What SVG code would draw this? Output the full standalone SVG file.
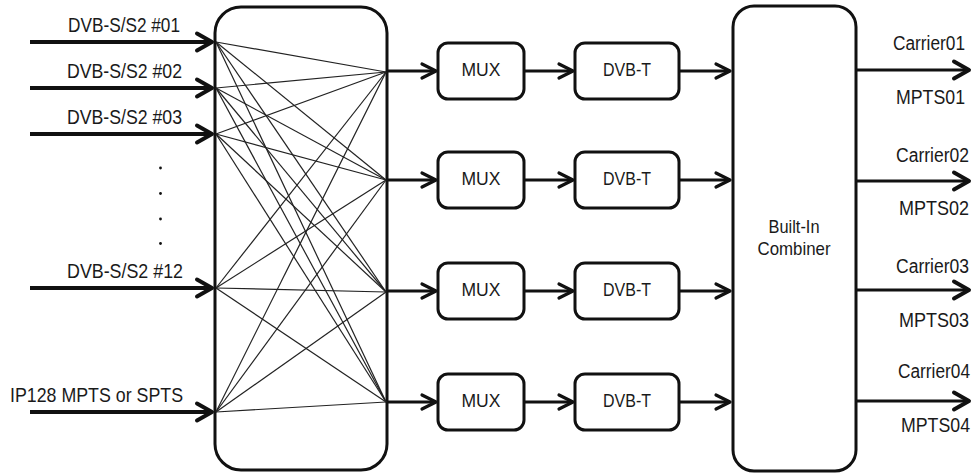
<svg xmlns="http://www.w3.org/2000/svg" width="977" height="473" viewBox="0 0 977 473">
<defs>
<style>
.box{fill:#fff;stroke:#111;stroke-width:3}
.t{font-family:"Liberation Sans",Arial,sans-serif;fill:#1a1a1a}
.lbl{font-size:21px;text-anchor:end}
.rl{font-size:19.5px;text-anchor:end}
.bt{font-size:18.5px;text-anchor:middle}
.thick{stroke:#111;stroke-width:4;fill:none}
.mid{stroke:#111;stroke-width:3;fill:none}
.mesh line{stroke:#222;stroke-width:1.2}
</style>
<marker id="ahBig" markerUnits="userSpaceOnUse" markerWidth="30" markerHeight="30" refX="0" refY="0" viewBox="-20 -15 30 30" orient="auto" overflow="visible">
<path d="M-15,-8.5 L0,0 L-15,8.5" fill="none" stroke="#111" stroke-width="4" stroke-linecap="round" stroke-linejoin="round"/>
</marker>
<marker id="ahMid" markerUnits="userSpaceOnUse" markerWidth="30" markerHeight="30" refX="0" refY="0" viewBox="-20 -15 30 30" orient="auto" overflow="visible">
<path d="M-14,-7 L0,0 L-14,7" fill="none" stroke="#111" stroke-width="3.2" stroke-linecap="round" stroke-linejoin="round"/>
</marker>
</defs>
<rect width="977" height="473" fill="#fff"/>

<g id="crossbar">
<rect class="box" x="215" y="7" width="172" height="463" rx="26"/>
</g>

<g id="combiner">
<rect class="box" x="733" y="6" width="123" height="465" rx="21"/>
<text class="t bt" x="794" y="233" font-size="18" textLength="51" lengthAdjust="spacingAndGlyphs">Built-In</text>
<text class="t bt" x="794" y="255" font-size="18" textLength="73" lengthAdjust="spacingAndGlyphs">Combiner</text>
</g>

<g id="mux1"><rect class="box" x="438" y="43" width="86" height="56" rx="10"/><text class="t bt" x="481" y="75.5" textLength="39" lengthAdjust="spacingAndGlyphs">MUX</text></g>
<g id="mux2"><rect class="box" x="438" y="152" width="86" height="56" rx="10"/><text class="t bt" x="481" y="184.5" textLength="39" lengthAdjust="spacingAndGlyphs">MUX</text></g>
<g id="mux3"><rect class="box" x="438" y="263" width="86" height="56" rx="10"/><text class="t bt" x="481" y="295.5" textLength="39" lengthAdjust="spacingAndGlyphs">MUX</text></g>
<g id="mux4"><rect class="box" x="438" y="374" width="86" height="56" rx="10"/><text class="t bt" x="481" y="406.5" textLength="39" lengthAdjust="spacingAndGlyphs">MUX</text></g>

<g id="dvbt1"><rect class="box" x="575" y="43" width="104" height="56" rx="10"/><text class="t bt" x="627" y="75.5" textLength="48" lengthAdjust="spacingAndGlyphs">DVB-T</text></g>
<g id="dvbt2"><rect class="box" x="575" y="152" width="104" height="56" rx="10"/><text class="t bt" x="627" y="184.5" textLength="48" lengthAdjust="spacingAndGlyphs">DVB-T</text></g>
<g id="dvbt3"><rect class="box" x="575" y="263" width="104" height="56" rx="10"/><text class="t bt" x="627" y="295.5" textLength="48" lengthAdjust="spacingAndGlyphs">DVB-T</text></g>
<g id="dvbt4"><rect class="box" x="575" y="374" width="104" height="56" rx="10"/><text class="t bt" x="627" y="406.5" textLength="48" lengthAdjust="spacingAndGlyphs">DVB-T</text></g>

<g id="connectors">
<g class="mesh">
<line x1="216" y1="42" x2="386" y2="72"/><line x1="216" y1="42" x2="386" y2="180"/><line x1="216" y1="42" x2="386" y2="292"/><line x1="216" y1="42" x2="386" y2="402"/>
<line x1="216" y1="88" x2="386" y2="72"/><line x1="216" y1="88" x2="386" y2="180"/><line x1="216" y1="88" x2="386" y2="292"/><line x1="216" y1="88" x2="386" y2="402"/>
<line x1="216" y1="134" x2="386" y2="72"/><line x1="216" y1="134" x2="386" y2="180"/><line x1="216" y1="134" x2="386" y2="292"/><line x1="216" y1="134" x2="386" y2="402"/>
<line x1="216" y1="288" x2="386" y2="72"/><line x1="216" y1="288" x2="386" y2="180"/><line x1="216" y1="288" x2="386" y2="292"/><line x1="216" y1="288" x2="386" y2="402"/>
<line x1="216" y1="412" x2="386" y2="72"/><line x1="216" y1="412" x2="386" y2="180"/><line x1="216" y1="412" x2="386" y2="292"/><line x1="216" y1="412" x2="386" y2="402"/>
</g>
<g id="inputs">
<line class="thick" x1="30" y1="42" x2="212" y2="42" marker-end="url(#ahBig)"/>
<line class="thick" x1="30" y1="88" x2="212" y2="88" marker-end="url(#ahBig)"/>
<line class="thick" x1="30" y1="134" x2="212" y2="134" marker-end="url(#ahBig)"/>
<line class="thick" x1="30" y1="288" x2="212" y2="288" marker-end="url(#ahBig)"/>
<line class="thick" x1="30" y1="412" x2="212" y2="412" marker-end="url(#ahBig)"/>
</g>
<g id="chain">
<line class="mid" x1="387" y1="71" x2="436" y2="71" marker-end="url(#ahMid)"/>
<line class="mid" x1="387" y1="180" x2="436" y2="180" marker-end="url(#ahMid)"/>
<line class="mid" x1="387" y1="291" x2="436" y2="291" marker-end="url(#ahMid)"/>
<line class="mid" x1="387" y1="402" x2="436" y2="402" marker-end="url(#ahMid)"/>
<line class="mid" x1="524" y1="71" x2="573" y2="71" marker-end="url(#ahMid)"/>
<line class="mid" x1="524" y1="180" x2="573" y2="180" marker-end="url(#ahMid)"/>
<line class="mid" x1="524" y1="291" x2="573" y2="291" marker-end="url(#ahMid)"/>
<line class="mid" x1="524" y1="402" x2="573" y2="402" marker-end="url(#ahMid)"/>
<line class="mid" x1="679" y1="71" x2="730" y2="71" marker-end="url(#ahMid)"/>
<line class="mid" x1="679" y1="180" x2="730" y2="180" marker-end="url(#ahMid)"/>
<line class="mid" x1="679" y1="291" x2="730" y2="291" marker-end="url(#ahMid)"/>
<line class="mid" x1="679" y1="402" x2="730" y2="402" marker-end="url(#ahMid)"/>
</g>
<g id="outputs">
<line class="mid" x1="856" y1="70" x2="969" y2="70" stroke-width="3.5" marker-end="url(#ahBig)"/>
<line class="mid" x1="856" y1="181" x2="969" y2="181" stroke-width="3.5" marker-end="url(#ahBig)"/>
<line class="mid" x1="856" y1="290" x2="969" y2="290" stroke-width="3.5" marker-end="url(#ahBig)"/>
<line class="mid" x1="856" y1="401" x2="969" y2="401" stroke-width="3.5" marker-end="url(#ahBig)"/>
</g>
</g>

<g id="input-labels">
<text class="t lbl" x="180" y="32" textLength="112" lengthAdjust="spacingAndGlyphs">DVB-S/S2 #01</text>
<text class="t lbl" x="182" y="78" textLength="115" lengthAdjust="spacingAndGlyphs">DVB-S/S2 #02</text>
<text class="t lbl" x="182" y="124" textLength="115" lengthAdjust="spacingAndGlyphs">DVB-S/S2 #03</text>
<text class="t lbl" x="183" y="278" textLength="116" lengthAdjust="spacingAndGlyphs">DVB-S/S2 #12</text>
<text class="t lbl" x="183" y="402" textLength="173" lengthAdjust="spacingAndGlyphs">IP128 MPTS or SPTS</text>
<g fill="#111">
<circle cx="160.5" cy="168" r="1.4"/>
<circle cx="160.5" cy="193.5" r="1.4"/>
<circle cx="160.5" cy="219" r="1.4"/>
<circle cx="160.5" cy="243.5" r="1.4"/>
</g>
</g>

<g id="output-labels">
<text class="t rl" x="965" y="50" textLength="72" lengthAdjust="spacingAndGlyphs">Carrier01</text>
<text class="t rl" x="965" y="104" textLength="69" lengthAdjust="spacingAndGlyphs">MPTS01</text>
<text class="t rl" x="969" y="161.5" textLength="73" lengthAdjust="spacingAndGlyphs">Carrier02</text>
<text class="t rl" x="969" y="215" textLength="70" lengthAdjust="spacingAndGlyphs">MPTS02</text>
<text class="t rl" x="969" y="273" textLength="73" lengthAdjust="spacingAndGlyphs">Carrier03</text>
<text class="t rl" x="969" y="327" textLength="70" lengthAdjust="spacingAndGlyphs">MPTS03</text>
<text class="t rl" x="970" y="378" textLength="72" lengthAdjust="spacingAndGlyphs">Carrier04</text>
<text class="t rl" x="970" y="432" textLength="69" lengthAdjust="spacingAndGlyphs">MPTS04</text>
</g>
</svg>
